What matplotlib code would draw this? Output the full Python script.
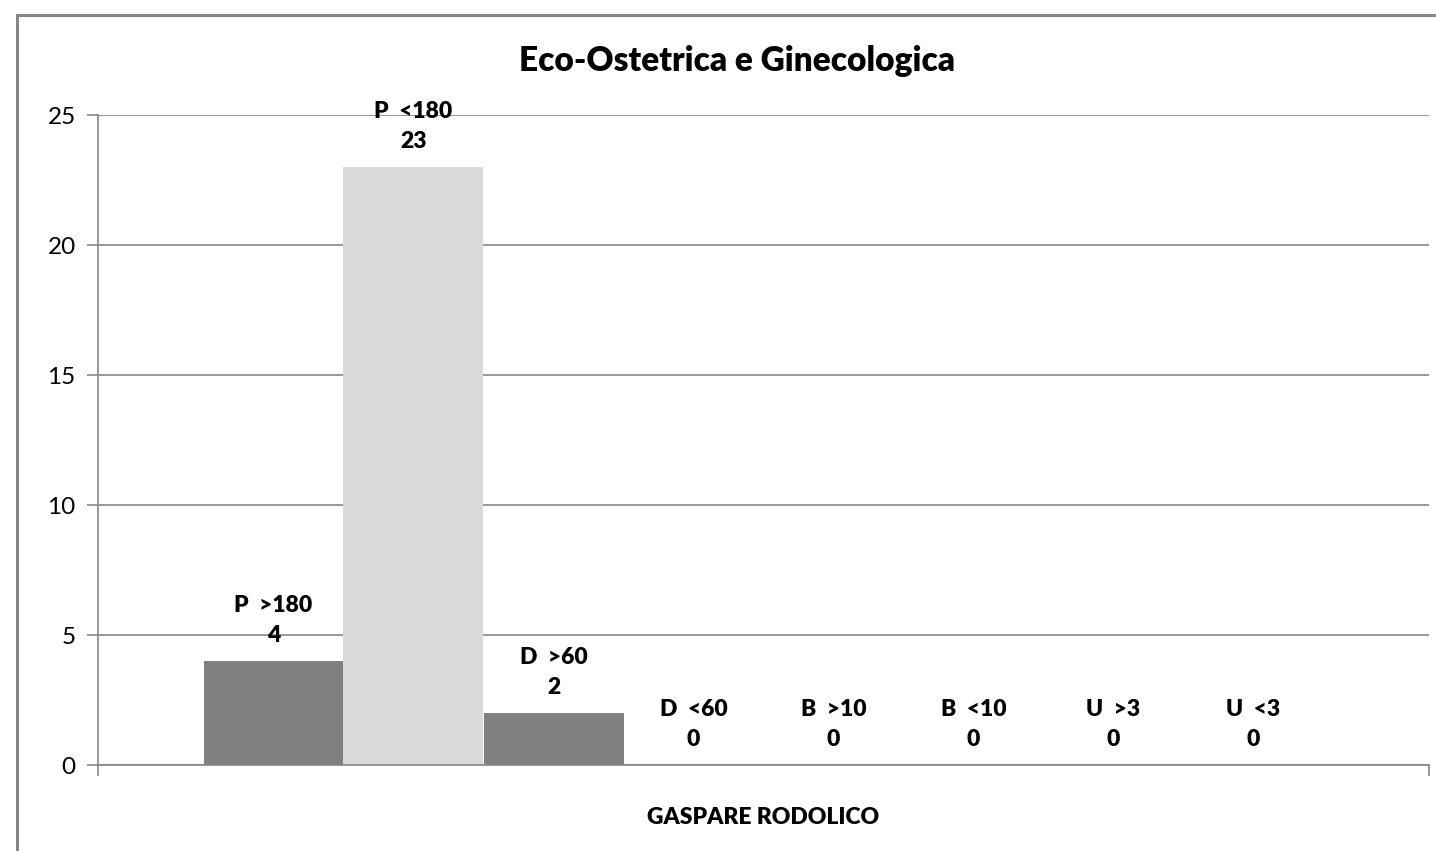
import matplotlib
matplotlib.use("Agg")
import matplotlib.pyplot as plt
from matplotlib.patches import Rectangle

categories = ["GASPARE RODOLICO"]
series_names = ["P  >180", "P  <180", "D  >60", "D  <60", "B  >10", "B  <10", "U  >3", "U  <3"]
values = [4, 23, 2, 0, 0, 0, 0, 0]
colors = ["#808080", "#D9D9D9", "#808080", "#D9D9D9", "#808080", "#D9D9D9", "#808080", "#D9D9D9"]
yticks = [0, 5, 10, 15, 20, 25]
title = "Eco-Ostetrica e Ginecologica"

plt.rcParams['font.family'] = ['Lato', 'DejaVu Sans']

W, H = 1436, 851
fig = plt.figure(figsize=(W / 100, H / 100), dpi=100)
ax = fig.add_axes([98 / W, 1 - 765 / H, (1429 - 98) / W, (765 - 115) / H])

# outer chart border (extends beyond the right/bottom edges)
fig.patches.append(Rectangle((17 / W, -0.05), 1.2, 1 - 15 / H + 0.05, transform=fig.transFigure,
                             fill=False, edgecolor="#878787", linewidth=2.2))

n = len(values)
group = 1120 / 1331
bw = group / n
for i, (name, v, c) in enumerate(zip(series_names, values, colors)):
    x = -group / 2 + bw * (i + 0.5)
    ax.bar(x, v, width=bw, color=c, linewidth=0, zorder=2)
    ax.annotate(f"{name}\n{v}", xy=(x, v), xytext=(0, 11), textcoords="offset points",
                ha="center", va="bottom", fontsize=16.5, fontweight="heavy",
                linespacing=1.5, zorder=3)

ax.set_xlim(-0.5, 0.5)
ax.set_ylim(0, 25)
ax.set_yticks(yticks)
ax.set_yticklabels([str(t) for t in yticks], fontsize=17.5)
ax.yaxis.grid(True, color="#868686", linewidth=1.2, zorder=0)
ax.set_axisbelow(True)
ax.tick_params(axis="y", length=8, color="#868686", width=1.2, pad=8)

ax.set_xticks([0])
ax.set_xticklabels(categories, fontsize=16.5, fontweight="heavy")
ax.set_xticks([-0.5, 0.5], minor=True)
ax.tick_params(axis="x", which="major", length=0, pad=30)
ax.tick_params(axis="x", which="minor", length=8, color="#868686", width=1.2)

for s in ["top", "right"]:
    ax.spines[s].set_visible(False)
for s in ["left", "bottom"]:
    ax.spines[s].set_color("#868686")
    ax.spines[s].set_linewidth(1.2)

fig.text(737 / W, 1 - 61 / H, title, ha="center", va="center", fontsize=24, fontweight="heavy")

fig.savefig("out.png", dpi=100)
